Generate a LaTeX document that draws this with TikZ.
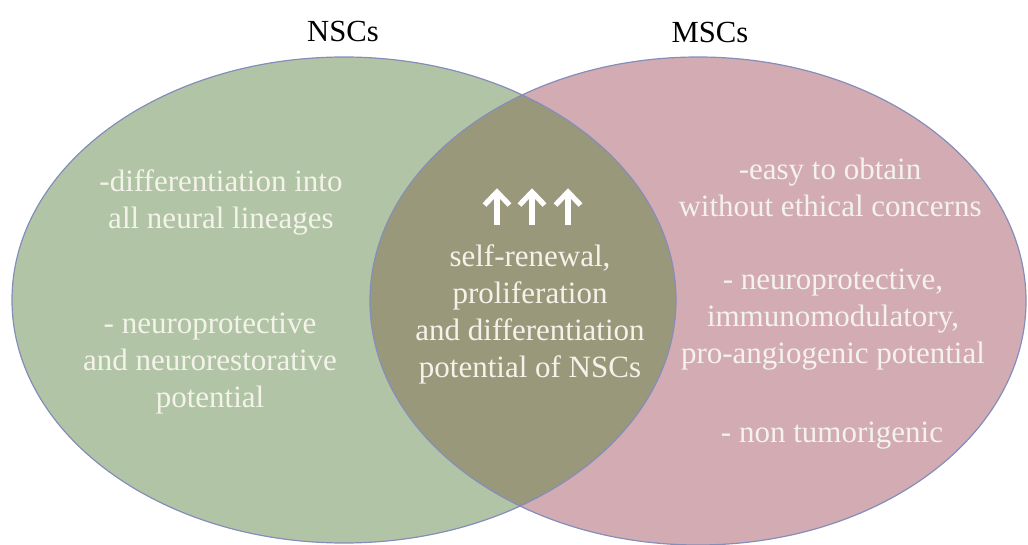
\documentclass[tikz,border=0pt]{standalone}
\usepackage{fontspec}
\setmainfont{Liberation Serif}
\usetikzlibrary{positioning}
\definecolor{nscgreen}{RGB}{177,196,165}
\definecolor{mscpink}{RGB}{211,171,179}
\definecolor{bothcol}{RGB}{154,152,123}
\definecolor{rimcol}{RGB}{132,142,186}
\definecolor{txtcol}{RGB}{244,243,234}
\begin{document}
\begin{tikzpicture}[x=0.75pt,y=-0.75pt]
\tikzstyle{every node}+=[inner sep=0pt]
\tikzstyle{title}=[font=\fontsize{23}{27}\selectfont, text=black, anchor=base]
\tikzstyle{facts}=[font=\fontsize{23.25}{27.75}\selectfont, text=txtcol, align=center]
\tikzstyle{uparrow}=[white, line width=3.9pt, line join=miter]
\useasboundingbox (0,0) rectangle (1028,545);
% the two sets
\fill [nscgreen] (344,300) ellipse [x radius=249pt, y radius=182.25pt];
\fill [mscpink] (698,301) ellipse [x radius=246pt, y radius=183pt];
\begin{scope}
\clip (344,300) ellipse [x radius=249pt, y radius=182.25pt];
\fill [bothcol] (698,301) ellipse [x radius=246pt, y radius=183pt];
\end{scope}
\draw [rimcol, line width=0.9pt] (344,300) ellipse [x radius=249pt, y radius=182.25pt];
\draw [rimcol, line width=0.9pt] (698,301) ellipse [x radius=246pt, y radius=183pt];
% titles
\node [title] (nsc) at (343,42) {NSCs};
\node [title] (msc) at (710,43) {MSCs};
% NSCs only
\node [facts] (nscdiff) at (221,202) {-differentiation into\\ all neural lineages};
\node [facts] (nscprot) at (210,364) {- neuroprotective\\and neurorestorative\\potential};
% both: three up arrows
\foreach \ax in {497,532,568} {
  \draw [uparrow] (\ax,225) -- (\ax,191);
  \draw [uparrow] (\ax-12.5,205) -- (\ax,192) -- (\ax+12.5,205);
}
\node [facts] (both) at (530,314) {self-renewal,\\proliferation\\and differentiation\\potential of NSCs};
% MSCs only
\node [facts] (mscease) at (830,187) {-easy to obtain\\without ethical concerns};
\node [facts] (mscprot) at (833,320) {- neuroprotective,\\immunomodulatory,\\pro-angiogenic potential};
\node [facts, anchor=base] (msctum) at (832,442) {- non tumorigenic};
\end{tikzpicture}
\end{document}
